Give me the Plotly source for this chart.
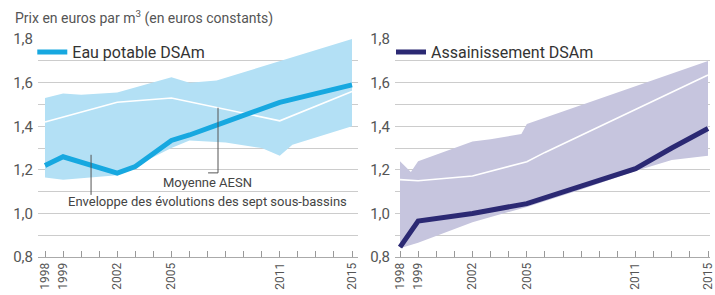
import plotly.graph_objects as go
from plotly.subplots import make_subplots

# ---------------- data ----------------
tick_years = list(range(1998, 2016))
label_years = [1998, 1999, 2002, 2005, 2011, 2015]

# Left panel : Eau potable
eau_years = [1998, 1999, 2002, 2003, 2005, 2006, 2008, 2011, 2015]
eau_vals = [1.22, 1.26, 1.185, 1.215, 1.335, 1.36, 1.42, 1.51, 1.59]
eau_moy_years = [1998, 2002, 2005, 2011, 2015]
eau_moy_vals = [1.42, 1.51, 1.53, 1.425, 1.56]
eau_up_years = [1998, 1999, 2000, 2002, 2005, 2006, 2007.5, 2015]
eau_up_vals = [1.53, 1.55, 1.545, 1.555, 1.625, 1.60, 1.61, 1.80]
eau_lo_years = [1998, 1999, 2002, 2005, 2006, 2008, 2010, 2011, 2011.7, 2015]
eau_lo_vals = [1.165, 1.155, 1.175, 1.30, 1.335, 1.325, 1.30, 1.265, 1.315, 1.40]

# Right panel : Assainissement
ass_years = [1998, 1999, 2002, 2005, 2008, 2011, 2013, 2015]
ass_vals = [0.845, 0.965, 1.0, 1.045, 1.125, 1.205, 1.30, 1.39]
ass_moy_years = [1998, 1999, 2002, 2005, 2006, 2011, 2015]
ass_moy_vals = [1.155, 1.15, 1.172, 1.237, 1.28, 1.476, 1.635]
ass_up_years = [1998, 1998.6, 1999, 2002, 2003, 2004.7, 2005, 2015]
ass_up_vals = [1.24, 1.19, 1.24, 1.33, 1.34, 1.365, 1.41, 1.70]
ass_lo_years = [1998, 1999, 2002, 2005, 2008, 2011, 2013, 2015]
ass_lo_vals = [0.84, 0.865, 0.96, 1.03, 1.11, 1.195, 1.245, 1.265]

# ---------------- style ----------------
FONT = "Roboto"
CYAN = "#17a8e0"
CYAN_FILL = "#b3e0f5"
NAVY = "#2b2973"
NAVY_FILL = "#c6c5de"
GRID = "#cccccc"
TXT = "#555555"

fig = make_subplots(rows=1, cols=2, horizontal_spacing=0.05)


def envelope(xu, yu, xl, yl, color, col):
    fig.add_trace(go.Scatter(x=list(xu) + list(xl)[::-1], y=list(yu) + list(yl)[::-1],
                             fill="toself", fillcolor=color, mode="lines",
                             line=dict(width=0, color=color), hoverinfo="skip",
                             showlegend=False), row=1, col=col)


envelope(eau_up_years, eau_up_vals, eau_lo_years, eau_lo_vals, CYAN_FILL, 1)
fig.add_trace(go.Scatter(x=eau_moy_years, y=eau_moy_vals, mode="lines",
                         line=dict(color="white", width=1.6), showlegend=False), row=1, col=1)
fig.add_trace(go.Scatter(x=eau_years, y=eau_vals, mode="lines", name="Eau potable DSAm",
                         line=dict(color=CYAN, width=5), legend="legend"), row=1, col=1)

envelope(ass_up_years, ass_up_vals, ass_lo_years, ass_lo_vals, NAVY_FILL, 2)
fig.add_trace(go.Scatter(x=ass_moy_years, y=ass_moy_vals, mode="lines",
                         line=dict(color="white", width=1.6), showlegend=False), row=1, col=2)
fig.add_trace(go.Scatter(x=ass_years, y=ass_vals, mode="lines", name="Assainissement DSAm",
                         line=dict(color=NAVY, width=5), legend="legend2"), row=1, col=2)

ticktext = [str(y) if y in label_years else "" for y in tick_years]
xcommon = dict(tickmode="array", tickvals=tick_years, ticktext=ticktext, tickangle=-90,
               ticks="inside", ticklen=6, tickcolor="#999999", tickwidth=1,
               showline=True, linecolor="#aaaaaa", linewidth=1, showgrid=False, zeroline=False,
               tickfont=dict(family=FONT, size=12, color=TXT))
fig.update_xaxes(**xcommon)
fig.update_xaxes(range=[1997.612, 2015.332], domain=[0, 0.4762], row=1, col=1)
fig.update_xaxes(range=[1997.724, 2015.11], domain=[0.53125, 1], row=1, col=2)

fig.update_yaxes(range=[0.8, 1.8005], tick0=0.8, dtick=0.2, tickformat=".1f",
                 showgrid=True, gridcolor=GRID, gridwidth=1, zeroline=False, ticks="",
                 minor=dict(dtick=0.1, tick0=0.8, showgrid=True, gridcolor=GRID, gridwidth=1),
                 tickfont=dict(family=FONT, size=15, color=TXT), ticklabelstandoff=4)

# annotations (left panel)
fig.add_annotation(x=2006.97, y=1.14, xref="x", yref="y", text="Moyenne AESN", showarrow=False,
                   font=dict(family=FONT, size=13, color="#444444"))
fig.add_annotation(x=2006.97, y=1.053, xref="x", yref="y",
                   text="Enveloppe des évolutions des sept sous-bassins", showarrow=False,
                   font=dict(family=FONT, size=13, color="#444444"))
fig.add_shape(type="line", xref="x", yref="y", x0=2007.58, x1=2007.58, y0=1.485, y1=1.186,
              line=dict(color="#555555", width=1))
fig.add_shape(type="line", xref="x", yref="y", x0=2007.58, x1=2007.03, y0=1.186, y1=1.186,
              line=dict(color="#555555", width=1))
fig.add_shape(type="line", xref="x", yref="y", x0=2000.55, x1=2000.55, y0=1.269, y1=1.085,
              line=dict(color="#555555", width=1))

fig.add_annotation(x=-0.037, y=1.10, xref="paper", yref="paper", xanchor="left", yanchor="middle",
                   text="Prix en euros par m<sup>3</sup> (en euros constants)", showarrow=False,
                   font=dict(family=FONT, size=14, color=TXT))

legfont = dict(family=FONT, size=16, color="#333333")
fig.update_layout(
    width=715, height=295, margin=dict(l=38, r=5, t=39, b=38, autoexpand=False),
    paper_bgcolor="white", plot_bgcolor="white", separators=", ",
    legend=dict(x=-0.0085, y=0.94, xanchor="left", yanchor="middle", bgcolor="rgba(0,0,0,0)",
                font=legfont, borderwidth=0),
    legend2=dict(x=0.5253, y=0.94, xanchor="left", yanchor="middle", bgcolor="rgba(0,0,0,0)",
                 font=legfont, borderwidth=0),
)

fig.write_html("out.html", config={"displayModeBar": False},
               post_script="document.body.style.margin='0';")
